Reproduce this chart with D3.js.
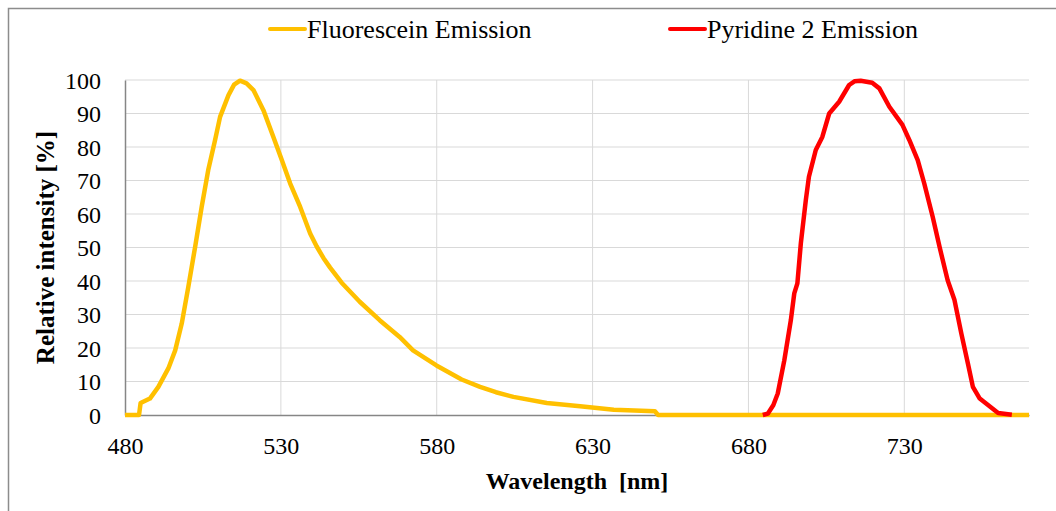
<!DOCTYPE html>
<html>
<head>
<meta charset="utf-8">
<script src="https://cdn.jsdelivr.net/npm/d3@7"></script>
<style>
  body { margin: 0; background: #fff; }
  svg text { font-family: "Times New Roman", "Liberation Serif", Tinos, "DejaVu Serif", serif; }
</style>
</head>
<body>
<div id="chart"></div>
<script>
// Fluorescein emission
var flWavelength = [480, 484.5, 485, 488, 490.7, 493.9, 496.1, 498.2, 500.3, 502.5, 504.6, 506.7, 508.9, 510.5, 513.2, 515, 516.9, 519, 521.2, 524.4, 527.6, 530.3, 533, 536.2, 539.4, 541.5, 543.7, 545.8, 549.5, 555.3, 561.7, 568.1, 572.4, 579.9, 588, 593.9, 599, 604.6, 615.3, 626, 636.8, 650, 651, 770];
var flIntensity = [0, 0, 3.6, 4.9, 8.4, 13.9, 19.3, 27.3, 38.2, 50.2, 62.1, 73.1, 82.1, 89, 95.5, 98.6, 99.8, 99, 97, 91, 83, 76.1, 69.1, 62.1, 54.2, 50.3, 46.8, 44.0, 39.5, 33.8, 28.3, 23.3, 19.3, 14.8, 10.6, 8.4, 6.8, 5.4, 3.6, 2.6, 1.6, 1.1, 0, 0];

// Pyridine 2 emission
var pyWavelength = [684.6, 686.2, 688, 689.4, 691.5, 693.6, 694.7, 695.7, 696.8, 698.4, 699.4, 701.6, 703.7, 705.9, 709.1, 712.3, 714, 716, 719.7, 722, 725.2, 729.4, 731.6, 734.3, 736.4, 739.1, 741.3, 743.9, 746.1, 748.3, 750.4, 752, 754.2, 760.1, 764.5];
var pyIntensity = [0, 0.4, 3, 6.4, 16.3, 28.3, 36.3, 39.3, 51.2, 64.1, 71.1, 79.1, 83, 90, 93.5, 98.5, 99.6, 99.8, 99.2, 97.5, 92, 86.6, 82.1, 76.1, 69.1, 59.2, 50.2, 40.2, 34.3, 24.3, 15.4, 8.4, 4.9, 0.6, 0.1];

var xTicks = [480, 530, 580, 630, 680, 730];
var yTicks = [0, 10, 20, 30, 40, 50, 60, 70, 80, 90, 100];
var seriesNames = ["Fluorescein Emission", "Pyridine 2 Emission"];
var seriesColors = ["#FFC000", "#FF0000"];

var width = 1056, height = 511;
var margin = { top: 80, right: 27, bottom: 96, left: 125 };
var serif = "'Times New Roman', 'Liberation Serif', Tinos, 'DejaVu Serif', serif";

var svg = d3.select("#chart").append("svg")
    .attr("width", width)
    .attr("height", height)
    .style("display", "block");

// outer chart frame
svg.append("rect")
    .attr("x", 8.5).attr("y", 8.5)
    .attr("width", 1100).attr("height", 600)
    .attr("fill", "#fff")
    .attr("stroke", "#8c8c8c")
    .attr("stroke-width", 1.5);

var x = d3.scaleLinear().domain([480, 770]).range([margin.left, width - margin.right]);
var y = d3.scaleLinear().domain([0, 100]).range([height - margin.bottom, margin.top]);

// gridlines
svg.append("g")
    .selectAll("line")
    .data(yTicks.slice(1))
    .enter().append("line")
    .attr("x1", x(480)).attr("x2", x(770))
    .attr("y1", d => y(d)).attr("y2", d => y(d))
    .attr("stroke", "#d9d9d9").attr("stroke-width", 1);

svg.append("g")
    .selectAll("line")
    .data(xTicks.slice(1))
    .enter().append("line")
    .attr("x1", d => x(d)).attr("x2", d => x(d))
    .attr("y1", y(0)).attr("y2", y(100))
    .attr("stroke", "#d9d9d9").attr("stroke-width", 1);

// axes
var xAxis = svg.append("g")
    .attr("transform", "translate(0," + y(0) + ")")
    .call(d3.axisBottom(x).tickValues(xTicks).tickSize(0).tickPadding(22).tickFormat(d3.format("d")));
var yAxis = svg.append("g")
    .attr("transform", "translate(" + x(480) + ",0)")
    .call(d3.axisLeft(y).tickValues(yTicks).tickSize(0).tickPadding(24).tickFormat(d3.format("d")));

[xAxis, yAxis].forEach(function (a) {
    a.attr("font-family", serif).attr("font-size", 24);
    a.select(".domain").attr("stroke", "#868686").attr("stroke-width", 1.5);
    a.selectAll("text").attr("fill", "#000");
});
yAxis.selectAll("text").attr("dy", "0.35em");

// series lines
var line = d3.line()
    .x(d => x(d[0]))
    .y(d => y(d[1]));

var series = [
    d3.zip(flWavelength, flIntensity),
    d3.zip(pyWavelength, pyIntensity)
];

svg.append("g")
    .selectAll("path")
    .data(series)
    .enter().append("path")
    .attr("d", line)
    .attr("fill", "none")
    .attr("stroke", (d, i) => seriesColors[i])
    .attr("stroke-width", 4.5)
    .attr("stroke-linejoin", "round");

// axis titles
svg.append("text")
    .attr("x", (x(480) + x(770)) / 2)
    .attr("y", 489)
    .attr("text-anchor", "middle")
    .attr("font-weight", "bold")
    .attr("font-size", 24)
    .attr("xml:space", "preserve")
    .text("Wavelength  [nm]");

svg.append("text")
    .attr("transform", "translate(54," + (y(50)) + ") rotate(-90)")
    .attr("text-anchor", "middle")
    .attr("font-weight", "bold")
    .attr("font-size", 25)
    .text("Relative intensity [%]");

// legend
var legendX = [270, 670];
var legend = svg.append("g")
    .selectAll("g")
    .data(seriesNames)
    .enter().append("g")
    .attr("transform", (d, i) => "translate(" + legendX[i] + ",29)");

legend.append("line")
    .attr("x1", 0).attr("x2", 35)
    .attr("stroke", (d, i) => seriesColors[i])
    .attr("stroke-width", 4)
    .attr("stroke-linecap", "round");

legend.append("text")
    .attr("x", 37)
    .attr("dy", "0.33em")
    .attr("font-size", 26)
    .text(d => d);
</script>
</body>
</html>
